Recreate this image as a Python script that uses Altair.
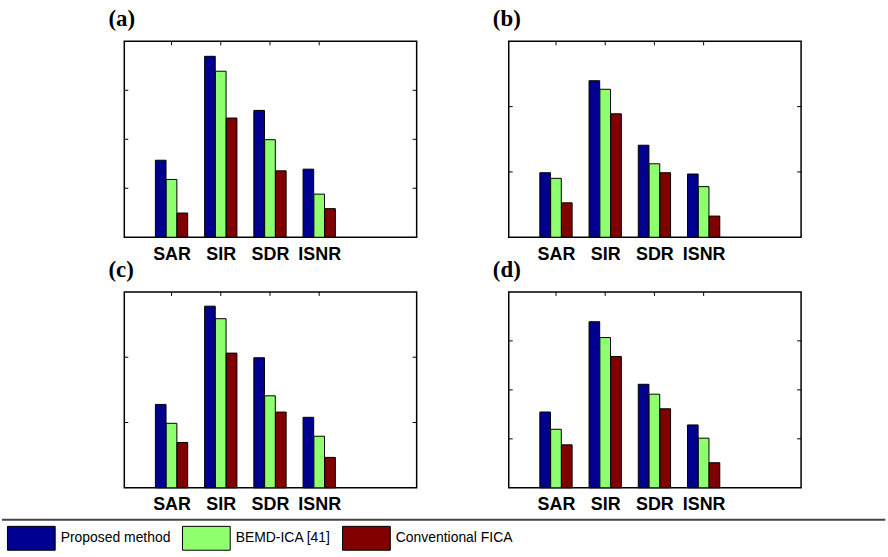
import altair as alt
import pandas as pd

metrics = ["SAR", "SIR", "SDR", "ISNR"]
methods = ["Proposed method", "BEMD-ICA [41]", "Conventional FICA"]
colors = ["#00008F", "#8FFF70", "#800000"]

panels = ["(a)", "(b)", "(c)", "(d)"]

a_proposed = [7.86, 18.47, 12.95, 6.95]
a_bemd = [5.90, 16.95, 9.96, 4.40]
a_fica = [2.47, 12.17, 6.78, 2.92]

b_proposed = [9.88, 23.97, 14.09, 9.68]
b_bemd = [9.02, 22.66, 11.25, 7.75]
b_fica = [5.27, 18.90, 9.88, 3.24]

c_proposed = [12.77, 27.82, 19.92, 10.80]
c_bemd = [9.88, 25.90, 14.09, 7.90]
c_fica = [6.94, 20.63, 11.60, 4.66]

d_proposed = [7.74, 16.96, 10.57, 6.42]
d_bemd = [5.98, 15.34, 9.56, 5.07]
d_fica = [4.39, 13.41, 8.07, 2.56]

panel_values = {
    "(a)": [a_proposed, a_bemd, a_fica],
    "(b)": [b_proposed, b_bemd, b_fica],
    "(c)": [c_proposed, c_bemd, c_fica],
    "(d)": [d_proposed, d_bemd, d_fica],
}
y_max = {"(a)": 20, "(b)": 30, "(c)": 30, "(d)": 20}
y_ticks = {"(a)": [5, 10, 15], "(b)": [10, 20], "(c)": [10, 20], "(d)": [5, 10, 15]}

W, H = 294, 197
label_expr = "[" + ",".join("'" + m + "'" for m in metrics) + "][datum.value - 1]"


def panel(name, with_rule=False):
    rows = []
    for si, (meth, vals) in enumerate(zip(methods, panel_values[name])):
        for mi, (met, v) in enumerate(zip(metrics, vals)):
            rows.append({"metric": met, "mi": mi + 1, "method": meth, "si": si, "value": v})
    df = pd.DataFrame(rows)
    xscale = alt.Scale(domain=[0.04, 5.98], nice=False, zero=False)
    yscale = alt.Scale(domain=[0, y_max[name]], nice=False)
    xaxis = alt.Axis(values=[1, 2, 3, 4], labelExpr=label_expr, ticks=False,
                     domain=False, grid=False, title=None,
                     labelFont="Liberation Sans", labelFontWeight="bold",
                     labelFontSize=18, labelColor="black", labelPadding=8)

    bars = alt.Chart(df).transform_calculate(
        xc="datum.mi + (datum.si - 1) * 0.22"
    ).transform_calculate(
        x1="datum.xc - 0.108", x2="datum.xc + 0.108"
    ).mark_bar(stroke="black", strokeWidth=1).encode(
        x=alt.X("x1:Q", scale=xscale, axis=xaxis),
        x2="x2:Q",
        y=alt.Y("value:Q", scale=yscale, axis=None),
        y2=alt.datum(0),
        color=alt.Color("method:N", scale=alt.Scale(domain=methods, range=colors),
                        title=None),
    )

    tdf = pd.DataFrame({"mi": [1, 2, 3, 4]})
    top_ticks = alt.Chart(tdf).mark_rule(color="black").encode(
        x=alt.X("mi:Q", scale=xscale, axis=xaxis), y=alt.value(0), y2=alt.value(4)
    )
    ydf = pd.DataFrame({"v": y_ticks[name]})
    left_ticks = alt.Chart(ydf).mark_rule(color="black").encode(
        y=alt.Y("v:Q", scale=yscale, axis=None), x=alt.value(0), x2=alt.value(4)
    )
    right_ticks = alt.Chart(ydf).mark_rule(color="black").encode(
        y=alt.Y("v:Q", scale=yscale, axis=None), x=alt.value(W - 4), x2=alt.value(W)
    )
    layers = [bars, top_ticks, left_ticks, right_ticks]
    if with_rule:
        sep = alt.Chart(pd.DataFrame({"k": [0]})).mark_rule(
            color="#444", strokeWidth=2
        ).encode(x=alt.value(-123), x2=alt.value(765.3), y=alt.value(H + 32))
        layers.append(sep)
    return alt.layer(*layers).properties(
        width=W, height=H,
        title=alt.TitleParams(name, anchor="start", frame="group",
                              font="Liberation Serif",
                              fontSize=23, fontWeight="bold", color="black",
                              dx=-16, offset=10),
    )


chart = alt.concat(
    panel("(a)"), panel("(b)"), panel("(c)", with_rule=True), panel("(d)"),
    columns=2, spacing={"row": 55, "column": 92.6}, bounds="flush"
).resolve_scale(x="independent", y="independent").properties(
    padding={"left": 0, "top": 5, "right": 0, "bottom": 4}
).configure_view(
    stroke="black", strokeWidth=1.5
).configure_legend(
    orient="none", legendX=-118, legendY=475, direction="horizontal",
    symbolType="M-1,-0.5H1V0.5H-1Z", symbolSize=2304, symbolStrokeColor="black",
    symbolStrokeWidth=1, symbolOpacity=1,
    labelFont="Liberation Sans",
    labelFontSize=14, labelColor="black", labelOffset=5, columnPadding=9,
    padding=0, labelLimit=300
)

chart.save("out.html", embed_options={"renderer": "svg", "actions": False})
